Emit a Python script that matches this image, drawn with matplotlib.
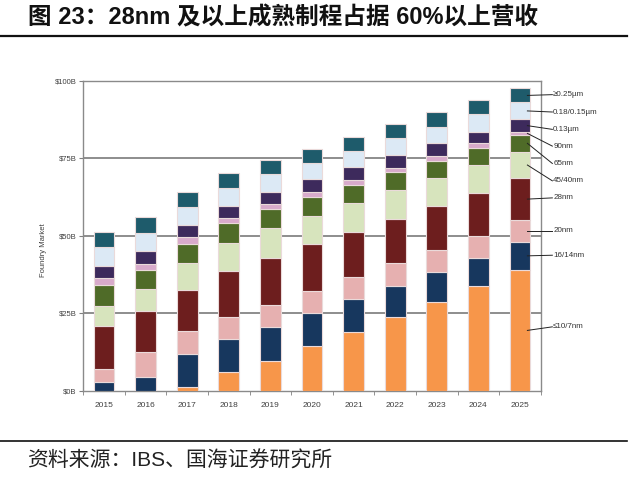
import matplotlib
matplotlib.use("Agg")
import matplotlib.pyplot as plt
from matplotlib.lines import Line2D
import numpy as np

years = ["2015", "2016", "2017", "2018", "2019", "2020", "2021", "2022", "2023", "2024", "2025"]
series_names = ["≤10/7nm", "16/14nm", "20nm", "28nm", "45/40nm", "65nm", "90nm",
                "0.13µm", "0.18/0.15µm", "≥0.25µm"]
s_10_7 = [0, 0, 1.3, 6.1, 9.7, 14.4, 19.0, 23.9, 28.7, 33.8, 38.9]
s_16_14 = [2.7, 4.5, 10.4, 10.5, 10.8, 10.8, 10.5, 9.8, 9.7, 9.1, 9.2]
s_20 = [4.2, 8.0, 7.6, 7.3, 7.1, 7.1, 7.1, 7.4, 7.0, 7.0, 7.0]
s_28 = [14.1, 13.1, 13.2, 14.8, 15.3, 15.0, 14.7, 14.4, 14.2, 14.0, 13.4]
s_45_40 = [6.4, 7.1, 8.6, 9.0, 9.5, 9.1, 9.2, 9.1, 8.9, 8.9, 8.6]
s_65 = [6.7, 6.2, 6.2, 6.3, 6.1, 6.0, 5.9, 5.8, 5.6, 5.6, 5.4]
s_90 = [2.2, 2.1, 2.2, 1.6, 1.7, 1.8, 1.6, 1.6, 1.6, 1.6, 1.0]
s_013 = [4.0, 4.0, 4.0, 4.0, 4.0, 4.0, 4.1, 3.9, 4.1, 3.5, 4.0]
s_018 = [6.0, 5.9, 5.9, 5.9, 5.6, 5.3, 5.3, 5.5, 5.4, 5.8, 5.5]
s_025 = [5.0, 5.0, 4.8, 4.8, 4.6, 4.5, 4.6, 4.6, 4.6, 4.5, 4.5]
series = [s_10_7, s_16_14, s_20, s_28, s_45_40, s_65, s_90, s_013, s_018, s_025]
colors = ["#f7964a", "#17375e", "#e6b0b0", "#6d1e1e", "#d7e4bd", "#4f6b28",
          "#d8aacb", "#3d2a5c", "#dce9f5", "#1e5b6b"]
yticks = [0, 25, 50, 75, 100]
ytick_labels = ["$0B", "$25B", "$50B", "$75B", "$100B"]

# layout: label y positions (data units) for the right-hand labels
label_y = [20.6, 43.7, 51.6, 62.2, 67.7, 73.3, 78.9, 84.3, 89.9, 95.5]

title = "图 23：28nm 及以上成熟制程占据 60%以上营收"
source = "资料来源：IBS、国海证券研究所"

fig = plt.figure(figsize=(6.4, 4.91), dpi=100)
W, H = 640, 491
ax = fig.add_axes([83.3 / W, 1 - 390.7 / H, (540.7 - 83.3) / W, (390.7 - 80.7) / H])

x = np.arange(len(years))
bottom = np.zeros(len(years))
for vals, c in zip(series, colors):
    v = np.array(vals)
    ax.bar(x, v, bottom=bottom, width=0.5, color=c, edgecolor="#eadada", linewidth=0.8, zorder=3)
    bottom += v

ax.set_xlim(-0.5, len(years) - 0.5)
ax.set_ylim(0, 100)
ax.set_yticks(yticks)
ax.set_yticklabels(ytick_labels)
ax.set_xticks(x)
ax.set_xticklabels(years)
ax.set_xticks(np.arange(-0.5, len(years), 1), minor=True)
ax.tick_params(axis="x", which="major", length=0, pad=8, labelsize=6, labelcolor="#404040")
ax.tick_params(axis="x", which="minor", length=3, color="#808080", direction="out")
ax.tick_params(axis="y", length=3, color="#808080", pad=2, labelsize=5.5, labelcolor="#404040")
for t in ax.get_xticklabels() + ax.get_yticklabels():
    t.set_family("Liberation Sans")
for s in ax.spines.values():
    s.set_color("#8a8a8a")
    s.set_linewidth(1.0)
for yv in yticks[1:-1]:
    ax.axhline(yv, color="#7a7a7a", linewidth=1.2, zorder=1)

fig.text(43.3 / W, 1 - 250 / H, "Foundry Market", rotation=90, ha="center", va="center",
         fontsize=5.5, color="#404040", family="Liberation Sans")

# right-hand labels with leader lines
last = len(years) - 1
cum = np.zeros(len(series) + 1)
for i, vals in enumerate(series):
    cum[i + 1] = cum[i] + vals[last]
for i, name in enumerate(series_names):
    yc = (cum[i] + cum[i + 1]) / 2
    ax.add_line(Line2D([last + 0.18, last + 0.78], [yc, label_y[i]], color="#222222",
                       linewidth=0.7, clip_on=False, zorder=5))
    ax.text(last + 0.8, label_y[i], name, ha="left", va="center", fontsize=5.8,
            color="#333333", family=["Liberation Sans", "DejaVu Sans"], clip_on=False)

fig.text(28 / W, 1 - 18 / H, title, ha="left", va="center", fontsize=17, fontweight="bold",
         family=["Liberation Sans", "Noto Sans CJK SC"], color="#111111")
fig.add_artist(Line2D([0, 627 / W], [1 - 36 / H, 1 - 36 / H], color="#111111", linewidth=1.6))
fig.add_artist(Line2D([0, 627 / W], [1 - 441 / H, 1 - 441 / H], color="#111111", linewidth=1.2))
fig.text(27 / W, 1 - 461 / H, source, ha="left", va="center", fontsize=15,
         family=["Liberation Sans", "Noto Sans CJK SC"], color="#222222")

fig.savefig("out.png", dpi=100)
